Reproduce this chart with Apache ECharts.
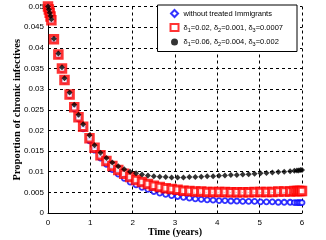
<!DOCTYPE html>
<html><head><meta charset="utf-8">
<script src="https://cdn.jsdelivr.net/npm/echarts@6/dist/echarts.min.js"></script>
<style>html,body{margin:0;padding:0;background:#fff}#c{width:326px;height:240px}</style>
</head><body><div id="c"></div>
<script>
var time = [0,0.02,0.04,0.06,0.08,0.14,0.245,0.33,0.39,0.51,0.62,0.72,0.83,0.98,1.10,1.24,1.38,1.52,1.66,1.80,1.94,2.08,2.22,2.36,2.50,2.64,2.78,2.92,3.06,3.20,3.34,3.48,3.62,3.76,3.90,4.04,4.18,4.32,4.46,4.60,4.74,4.88,5.02,5.16,5.30,5.44,5.58,5.72,5.82,5.88,5.92,5.96,6.0];
var withoutTreated = [0.0500,0.0493,0.0485,0.0476,0.0467,0.0420,0.0382,0.0348,0.0320,0.0284,0.0253,0.0228,0.0204,0.0175,0.0152,0.0133,0.0118,0.0105,0.0094,0.0084,0.0075,0.0068,0.0062,0.0057,0.0052,0.0048,0.0045,0.0042,0.0040,0.0038,0.0036,0.0034,0.0033,0.0032,0.0031,0.0030,0.0030,0.0029,0.0029,0.0028,0.0028,0.0028,0.0027,0.0027,0.0027,0.0026,0.0026,0.0026,0.0025,0.0025,0.0025,0.0025,0.0025];
var deltaLow = [0.0500,0.0493,0.0485,0.0476,0.0467,0.0421,0.0384,0.0350,0.0322,0.0287,0.0256,0.0232,0.0209,0.0181,0.0158,0.0140,0.0126,0.0114,0.0104,0.0095,0.0087,0.0080,0.0075,0.0070,0.0066,0.0063,0.0060,0.0058,0.0056,0.0054,0.0053,0.0052,0.0052,0.0051,0.0051,0.0051,0.0051,0.0050,0.0050,0.0050,0.0050,0.0051,0.0051,0.0051,0.0051,0.0052,0.0052,0.0052,0.0053,0.0053,0.0053,0.0053,0.0053];
var deltaHigh = [0.0500,0.0493,0.0485,0.0477,0.0469,0.0422,0.0386,0.0353,0.0326,0.0292,0.0262,0.0238,0.0215,0.0188,0.0164,0.0146,0.0133,0.0122,0.0113,0.0106,0.0100,0.0096,0.0093,0.0091,0.0089,0.0088,0.0087,0.0086,0.0086,0.0086,0.0087,0.0087,0.0088,0.0089,0.0089,0.0090,0.0091,0.0092,0.0092,0.0093,0.0094,0.0095,0.0096,0.0097,0.0098,0.0099,0.0100,0.0101,0.0102,0.0103,0.0103,0.0104,0.0104];
var xTickLabels = ['0','1','2','3','4','5','6'];
var yTickLabels = ['0','0.005','0.01','0.015','0.02','0.025','0.03','0.035','0.04','0.045','0.05'];
var seriesNames = ['{n|without treated Immigrants}','{n|δ}{s|1}{n|=0.02, δ}{s|2}{n|=0.001, δ}{s|3}{n|=0.0007}','{n|δ}{s|1}{n|=0.06, δ}{s|2}{n|=0.004, δ}{s|3}{n|=0.002}'];

function pairs(v){ return time.map(function(t,i){ return [t, v[i]]; }); }
var chart = echarts.init(document.getElementById('c'), null, {renderer:'canvas'});
var gridLine = {show:true, lineStyle:{color:'#000', type:[3,3], width:1}};
chart.setOption({
  animation:false,
  backgroundColor:'#fff',
  grid:{left:48, right:24, top:6.5, bottom:27, containLabel:false, outerBoundsMode:'none'},
  legend:{
    right:29, top:5, orient:'vertical', itemGap:5, padding:[4,14,4,12],
    backgroundColor:'#fff', borderColor:'#000', borderWidth:1,
    itemWidth:8, itemHeight:7,
    data:[
      {name:'s0', icon:'path://M5,0L10,5L5,10L0,5Z'},
      {name:'s1', icon:'rect'},
      {name:'s2', icon:'circle', itemStyle:{borderWidth:0}}
    ],
    formatter:function(n){ return seriesNames[+n.slice(1)]; },
    textStyle:{fontFamily:'Liberation Sans', fontSize:7.5, color:'#000',
      rich:{n:{fontFamily:'Liberation Sans', fontSize:7.5, color:'#000'}, s:{fontFamily:'Liberation Sans', fontSize:5.5, color:'#000', padding:[5,0,0,0]}}}
  },
  xAxis:{type:'value', min:0, max:6, interval:1,
    axisLine:{show:true, onZero:false, lineStyle:{color:'#000', width:1}},
    axisTick:{show:false}, splitLine:gridLine,
    axisLabel:{color:'#000', fontFamily:'Liberation Sans', fontSize:8, margin:6,
      formatter:function(v){ return xTickLabels[Math.round(v)]; }},
    name:'Time (years)', nameLocation:'middle', nameGap:14, nameMoveOverlap:false,
    nameTextStyle:{fontFamily:'Liberation Serif', fontWeight:'bold', fontSize:10, color:'#000'}
  },
  yAxis:{type:'value', min:0, max:0.05, interval:0.005,
    axisLine:{show:true, onZero:false, lineStyle:{color:'#000', width:1}},
    axisTick:{show:false}, splitLine:gridLine,
    axisLabel:{color:'#000', fontFamily:'Liberation Sans', fontSize:8, margin:4,
      formatter:function(v){ return yTickLabels[Math.round(v/0.005)]; }},
    name:'Proportion of chronic infectives', nameLocation:'middle', nameGap:25, nameMoveOverlap:false,
    nameTextStyle:{fontFamily:'Liberation Serif', fontWeight:'bold', fontSize:10.5, color:'#000'}
  },
  series:[
    {name:'s0', type:'scatter', data:pairs(withoutTreated), symbol:'circle', symbolSize:5,
      itemStyle:{color:'#fff', borderColor:'#0000ff', borderWidth:1.8}},
    {name:'s1', type:'scatter', data:pairs(deltaLow), symbol:'rect', symbolSize:7.5,
      itemStyle:{color:'#fff', borderColor:'#ff0000', borderWidth:3}},
    {name:'s2', type:'scatter', data:pairs(deltaHigh), symbol:'diamond', symbolSize:6,
      itemStyle:{color:'#000'}}
  ]
});
</script></body></html>
